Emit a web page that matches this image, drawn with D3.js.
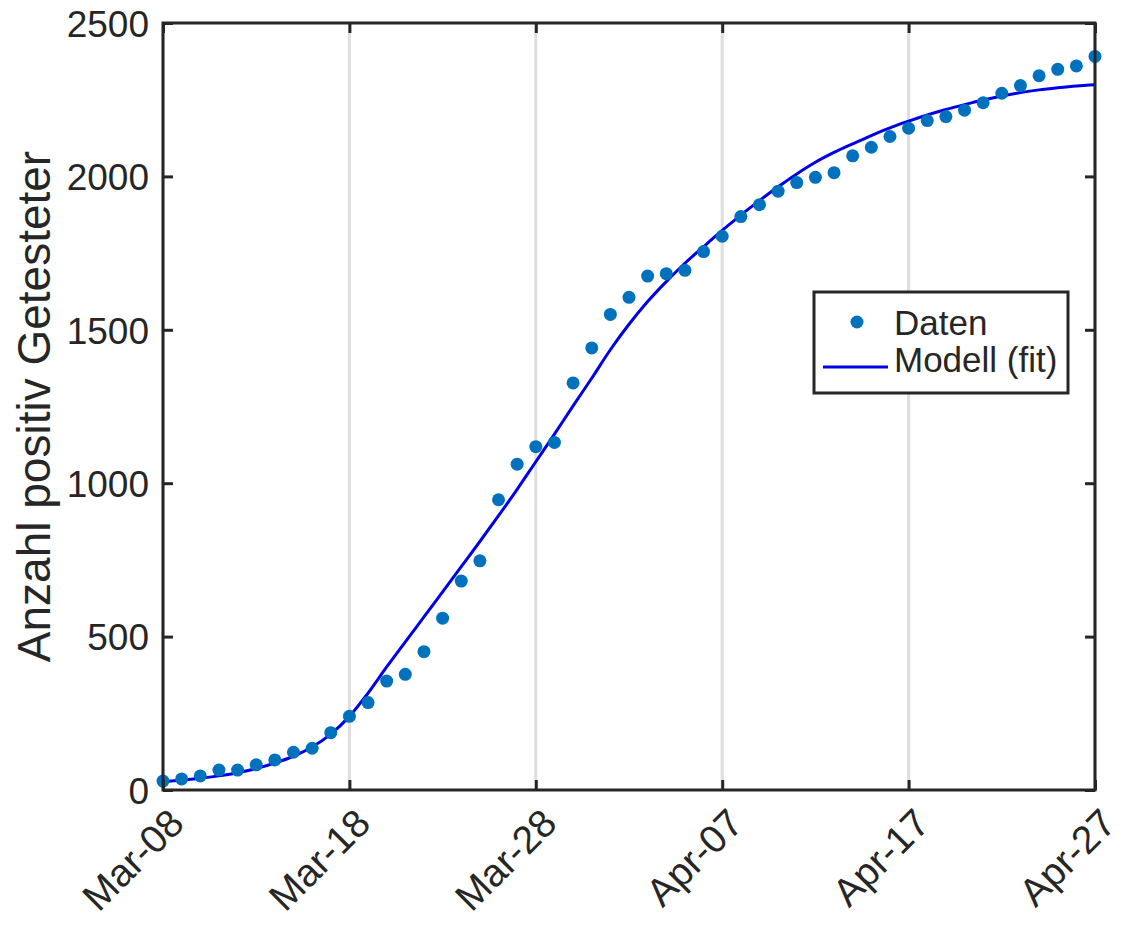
<!DOCTYPE html>
<html>
<head>
<meta charset="utf-8">
<script src="https://cdn.jsdelivr.net/npm/d3@7"></script>
<style>
  body { margin: 0; background: #fff; }
  svg text { font-family: "Liberation Sans", Arial, Helvetica, sans-serif; fill: #262626; }
</style>
</head>
<body>
<div id="chart"></div>
<script>
// daily values, one entry per day from Mar-08 to Apr-27
const startDay = "2020-03-08";
const endDay = "2020-04-27";

const daten = [
  29, 36, 46, 65, 65, 82, 98, 123, 136, 187, 240, 285, 355, 377, 451, 560,
  681, 747, 946, 1062, 1119, 1133, 1327, 1441,
  1550, 1606, 1675, 1683, 1694, 1755, 1805, 1869, 1908, 1952, 1980, 1997,
  2012, 2067, 2095, 2130, 2157, 2182, 2195, 2216, 2240, 2271, 2296, 2328,
  2349, 2360, 2391
];

const modell = [
  28, 32, 38, 46, 56, 70, 88, 110, 140, 182, 240, 316, 401, 483, 564, 646,
  728, 810, 894, 980, 1070, 1160, 1252, 1342,
  1435, 1518, 1592, 1657, 1717, 1771, 1824, 1874, 1921, 1966, 2008, 2046,
  2078, 2106, 2133, 2158, 2180, 2200, 2218, 2234, 2249, 2262, 2273, 2282,
  2289, 2295, 2299
];

const yTicks = [0, 500, 1000, 1500, 2000, 2500];
const xTickLabels = ["Mar-08", "Mar-18", "Mar-28", "Apr-07", "Apr-17", "Apr-27"];
const legendLabels = ["Daten", "Modell (fit)"];
const yLabel = "Anzahl positiv Getesteter";

const width = 1122, height = 932;
const margin = {top: 23, right: 27, bottom: 142, left: 163};
const innerW = width - margin.left - margin.right;
const innerH = height - margin.top - margin.bottom;
const axisColor = "#262626";
const dotColor = "#0072bd";
const lineColor = "#0000e6";

const parse = d3.utcParse("%Y-%m-%d");
const days = d3.utcDay.range(parse(startDay), d3.utcDay.offset(parse(endDay), 1));
const rows = days.map((d, i) => ({date: d, daten: daten[i], modell: modell[i]}));
// a tick every 10 days
const tickDates = xTickLabels.map((t, i) => d3.utcDay.offset(days[0], i * 10));

const svg = d3.select("#chart").append("svg")
    .attr("width", width)
    .attr("height", height);

svg.append("rect").attr("width", width).attr("height", height).attr("fill", "#fff");

const g = svg.append("g")
    .attr("transform", `translate(${margin.left},${margin.top})`);

const x = d3.scaleUtc()
    .domain([days[0], days[days.length - 1]])
    .range([0, innerW]);
const y = d3.scaleLinear()
    .domain([0, 2500])
    .range([innerH, 0]);

// vertical grid
g.append("g").selectAll("line")
    .data(tickDates)
    .join("line")
    .attr("x1", d => x(d)).attr("x2", d => x(d))
    .attr("y1", 0).attr("y2", innerH)
    .attr("stroke", "#dedede")
    .attr("stroke-width", 3);

// model line
const line = d3.line()
    .x(d => x(d.date))
    .y(d => y(d.modell))
    .curve(d3.curveCatmullRom);

g.append("path")
    .datum(rows)
    .attr("fill", "none")
    .attr("stroke", lineColor)
    .attr("stroke-width", 3)
    .attr("d", line);

// data points
g.append("g").selectAll("circle")
    .data(rows)
    .join("circle")
    .attr("cx", d => x(d.date))
    .attr("cy", d => y(d.daten))
    .attr("r", 6.5)
    .attr("fill", dotColor);

// axes (ticks point inward, box on all four sides)
const xAxis = d3.axisBottom(x).tickValues(tickDates).tickFormat((d, i) => xTickLabels[i]).tickSizeInner(-10).tickSizeOuter(0);
const xAxisTop = d3.axisTop(x).tickValues(tickDates).tickFormat("").tickSizeInner(-10).tickSizeOuter(0);
const yAxis = d3.axisLeft(y).tickValues(yTicks).tickFormat(d3.format("d")).tickSizeInner(-10).tickSizeOuter(0).tickPadding(14);
const yAxisRight = d3.axisRight(y).tickValues(yTicks).tickFormat("").tickSizeInner(-10).tickSizeOuter(0);

const gx = g.append("g").attr("transform", `translate(0,${innerH})`).call(xAxis);
g.append("g").call(xAxisTop);
const gy = g.append("g").call(yAxis);
g.append("g").attr("transform", `translate(${innerW},0)`).call(yAxisRight);

g.selectAll(".domain").remove();
g.selectAll(".tick line").attr("stroke", axisColor).attr("stroke-width", 3);
g.selectAll(".tick text").attr("fill", axisColor);

gy.selectAll(".tick text")
    .attr("font-size", 37)
    .attr("dy", "0.36em");

gx.selectAll(".tick text")
    .attr("font-size", 39)
    .attr("text-anchor", "end")
    .attr("dy", "0.35em")
    .attr("transform", "translate(13,26) rotate(-45)")
    .attr("y", 0);

// box
g.append("rect")
    .attr("width", innerW)
    .attr("height", innerH)
    .attr("fill", "none")
    .attr("stroke", axisColor)
    .attr("stroke-width", 3);

// y label
svg.append("text")
    .attr("transform", `translate(50,${margin.top + innerH / 2}) rotate(-90)`)
    .attr("text-anchor", "middle")
    .attr("font-size", 46)
    .text(yLabel);

// legend
const leg = svg.append("g").attr("transform", "translate(814,292)");
leg.append("rect")
    .attr("width", 254).attr("height", 101)
    .attr("fill", "#fff")
    .attr("stroke", axisColor)
    .attr("stroke-width", 3);
leg.append("circle")
    .attr("cx", 43).attr("cy", 30).attr("r", 6.5)
    .attr("fill", dotColor);
leg.append("line")
    .attr("x1", 9).attr("x2", 74)
    .attr("y1", 75).attr("y2", 75)
    .attr("stroke", lineColor).attr("stroke-width", 3);
leg.selectAll("text.lab")
    .data(legendLabels)
    .join("text")
    .attr("class", "lab")
    .attr("x", 80)
    .attr("y", (d, i) => 43 + i * 37)
    .attr("font-size", 35)
    .text(d => d);
</script>
</body>
</html>
